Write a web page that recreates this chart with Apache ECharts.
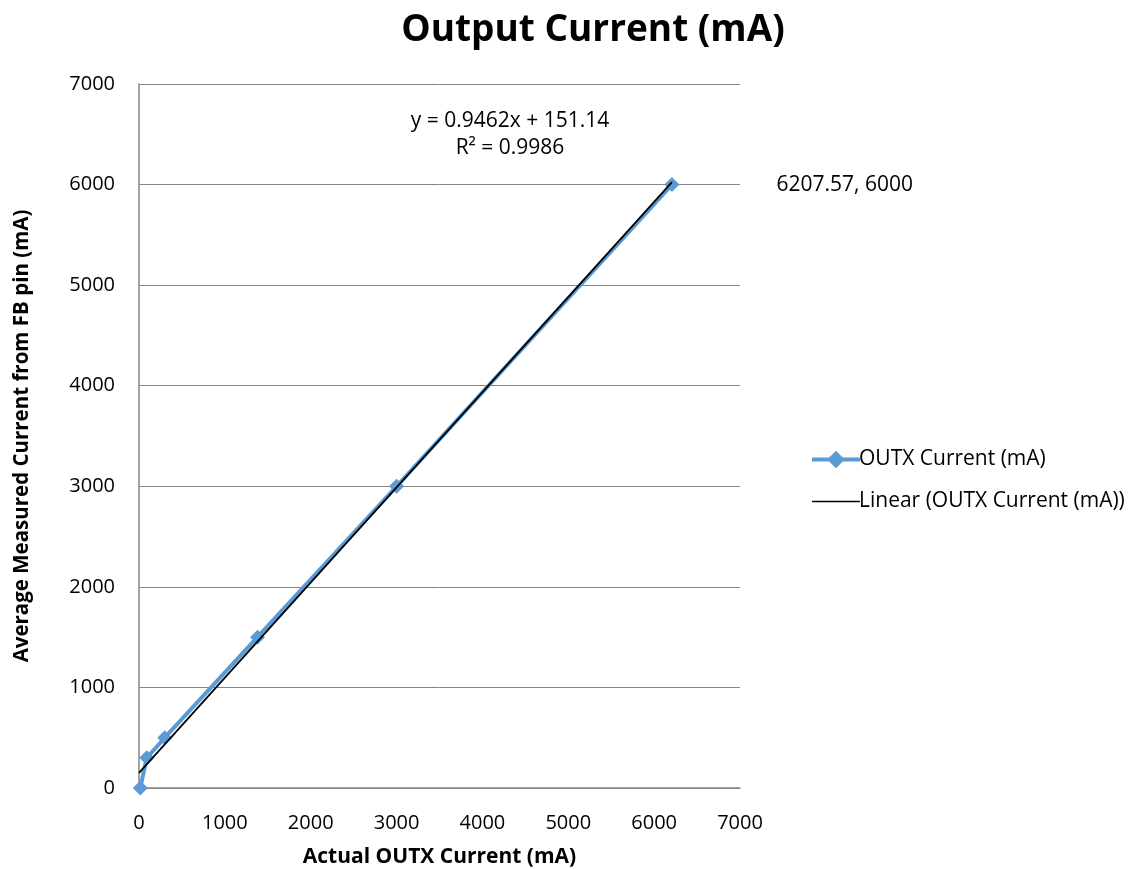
<!DOCTYPE html>
<html><head><meta charset="utf-8">
<script src="https://cdn.jsdelivr.net/npm/echarts@6/dist/echarts.min.js"></script>
<style>html,body{margin:0;padding:0;background:#fff}#c{width:1135px;height:869px}</style>
</head><body><div id="c"></div>
<script>
const xValues = [15, 90, 300, 1380, 3000, 6207.57];
const yValues = [0, 300, 500, 1500, 3000, 6000];
const trendSlope = 0.9462;
const trendIntercept = 151.14;
const rSquared = 0.9986;
const xTicks = [0, 1000, 2000, 3000, 4000, 5000, 6000, 7000];
const yTicks = [0, 1000, 2000, 3000, 4000, 5000, 6000, 7000];
const seriesName = 'OUTX Current (mA)';
const trendName = 'Linear (OUTX Current (mA))';

const FONT = '"Open Sans", Lato, sans-serif';
const last = xValues.length - 1;
const pts = xValues.map((x, i) => i === last
  ? {value: [x, yValues[i]], label: {show: true, position: 'right', offset: [92, 0], fontSize: 21, color: '#000',
      fontFamily: FONT, formatter: p => p.value[0] + ', ' + p.value[1]}}
  : [x, yValues[i]]);
const xMin = 0, xMax = xValues[last];
const trend = [[xMin, trendSlope * xMin + trendIntercept], [xMax, trendSlope * xMax + trendIntercept]];

const chart = echarts.init(document.getElementById('c'), null, {renderer: 'canvas'});
chart.setOption({
  animation: false,
  textStyle: {fontFamily: FONT},
  title: {text: 'Output Current (mA)', left: 588, textAlign: 'center', top: 7,
    textStyle: {fontSize: 37, fontWeight: 'bold', color: '#000', fontFamily: FONT}},
  grid: {left: 139, right: 395, top: 84, bottom: 81, containLabel: false, outerBoundsMode: 'none'},
  xAxis: {type: 'value', min: xTicks[0], max: xTicks[xTicks.length - 1], interval: 1000,
    name: 'Actual OUTX Current (mA)', nameLocation: 'middle', nameGap: 59,
    nameTextStyle: {fontSize: 21, fontWeight: 'bold', color: '#000', fontFamily: FONT},
    axisLine: {lineStyle: {color: '#868686', width: 1.5}}, axisTick: {show: false},
    axisLabel: {fontSize: 20, color: '#000', margin: 25, fontFamily: FONT, formatter: v => String(v)},
    splitLine: {show: false}},
  yAxis: {type: 'value', min: yTicks[0], max: yTicks[yTicks.length - 1], interval: 1000,
    name: 'Average Measured Current from FB pin (mA)', nameLocation: 'middle', nameGap: 106,
    nameTextStyle: {fontSize: 20.5, fontWeight: 'bold', color: '#000', fontFamily: FONT},
    axisLine: {show: true, lineStyle: {color: '#868686', width: 1.5}}, axisTick: {show: false},
    axisLabel: {fontSize: 20, color: '#000', margin: 24, fontFamily: FONT, formatter: v => String(v)},
    splitLine: {lineStyle: {color: '#868686', width: 1}}},
  legend: {orient: 'vertical', left: 805, top: 444, itemGap: 21, itemWidth: 48, itemHeight: 22,
    lineStyle: {width: 4},
    textStyle: {fontSize: 21, color: '#000', fontFamily: FONT, padding: [0, 0, 0, -6]},
    data: [{name: seriesName}, {name: trendName, icon: 'path://M0,0 L48,0 L48,1.6 L0,1.6 Z', itemStyle: {color: '#000'}}]},
  graphic: [
    {type: 'text', x: 510, y: 108, style: {text: 'y = 0.9462x + 151.14\nR² = ' + rSquared,
      textAlign: 'center', fontSize: 21, lineHeight: 27, fill: '#000', fontFamily: FONT}}
  ],
  series: [
    {name: seriesName, type: 'line', data: pts, symbol: 'diamond', symbolSize: 15,
      lineStyle: {color: '#5B9BD5', width: 4}, itemStyle: {color: '#5B9BD5'}, z: 2},
    {name: trendName, type: 'line', data: trend, symbol: 'none', showSymbol: false,
      lineStyle: {color: '#000', width: 1.8}, itemStyle: {color: '#000'}, z: 3}
  ]
});
</script></body></html>
